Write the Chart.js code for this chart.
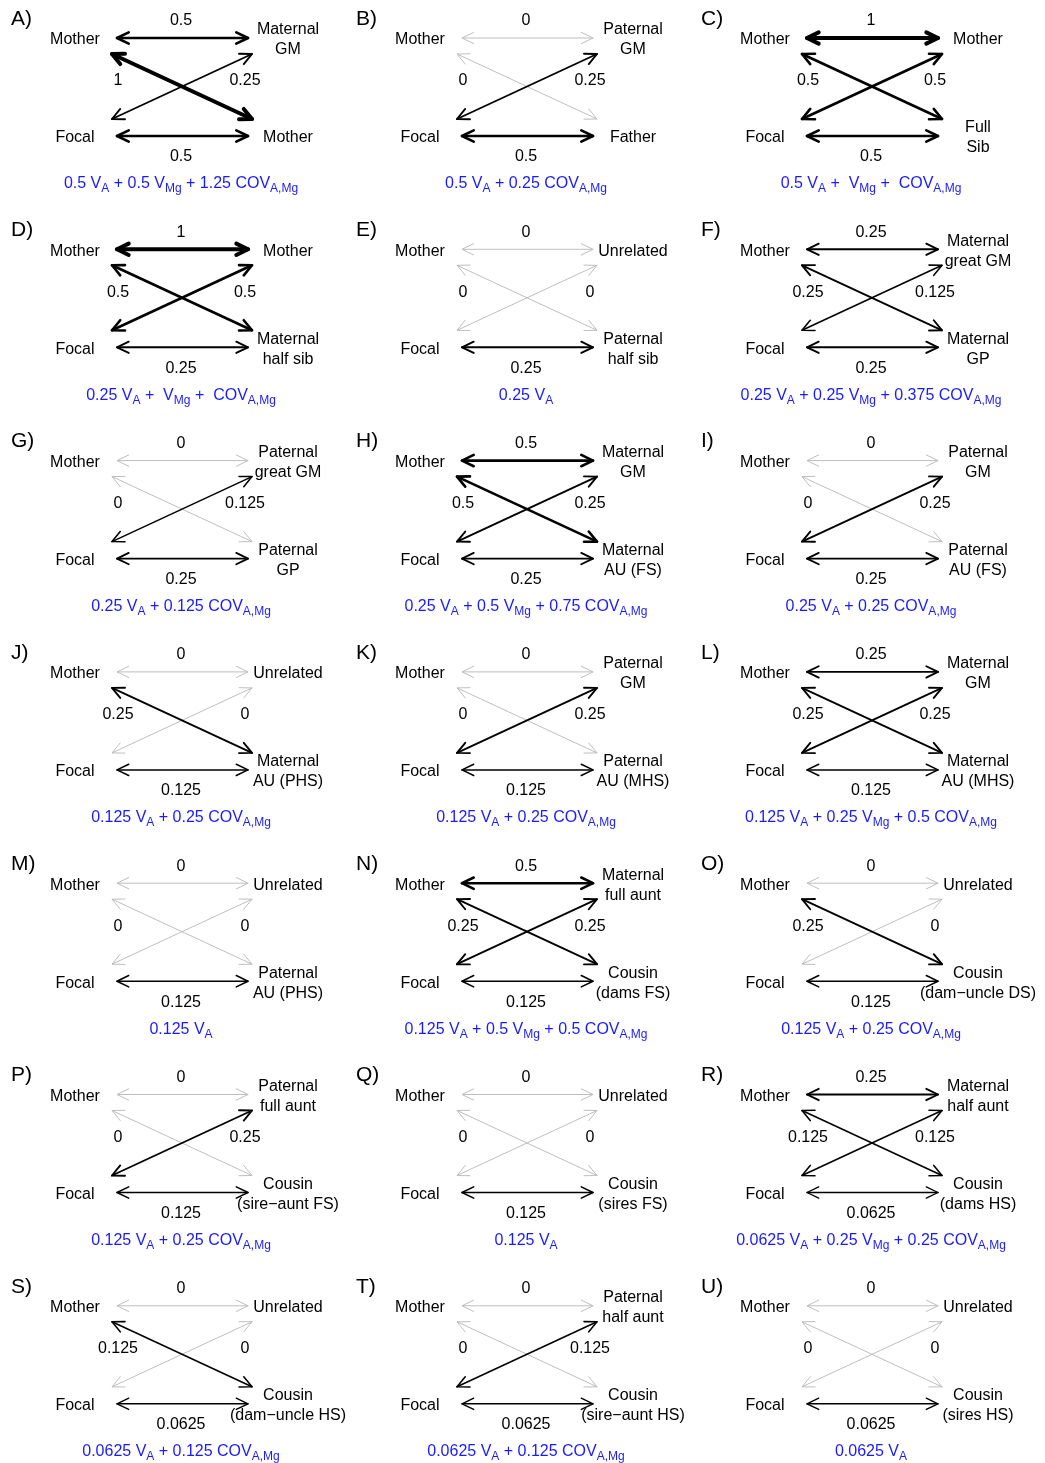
<!DOCTYPE html>
<html>
<head>
<meta charset="utf-8">
<script src="https://cdn.jsdelivr.net/npm/chart.js@4.4.1/dist/chart.umd.min.js"></script>
<style>
  body { margin: 0; background: #fff; }
  canvas { display: block; }
</style>
</head>
<body>
<canvas id="paths" width="1045" height="1463"></canvas>
<script>
// one panel per relative type, read left to right, top to bottom
var panelLetters = ['A','B','C','D','E','F','G','H','I','J','K','L','M','N','O','P','Q','R','S','T','U'];

var topRelative = [
  ['Maternal','GM'], ['Paternal','GM'], ['Mother'],
  ['Mother'], ['Unrelated'], ['Maternal','great GM'],
  ['Paternal','great GM'], ['Maternal','GM'], ['Paternal','GM'],
  ['Unrelated'], ['Paternal','GM'], ['Maternal','GM'],
  ['Unrelated'], ['Maternal','full aunt'], ['Unrelated'],
  ['Paternal','full aunt'], ['Unrelated'], ['Maternal','half aunt'],
  ['Unrelated'], ['Paternal','half aunt'], ['Unrelated']
];
var bottomRelative = [
  ['Mother'], ['Father'], ['Full','Sib'],
  ['Maternal','half sib'], ['Paternal','half sib'], ['Maternal','GP'],
  ['Paternal','GP'], ['Maternal','AU (FS)'], ['Paternal','AU (FS)'],
  ['Maternal','AU (PHS)'], ['Paternal','AU (MHS)'], ['Maternal','AU (MHS)'],
  ['Paternal','AU (PHS)'], ['Cousin','(dams FS)'], ['Cousin','(dam\u2212uncle DS)'],
  ['Cousin','(sire\u2212aunt FS)'], ['Cousin','(sires FS)'], ['Cousin','(dams HS)'],
  ['Cousin','(dam\u2212uncle HS)'], ['Cousin','(sire\u2212aunt HS)'], ['Cousin','(sires HS)']
];

// path coefficients
var topValues    = [0.5, 0, 1,   1, 0, 0.25,   0, 0.5, 0,   0, 0, 0.25,   0, 0.5, 0,   0, 0, 0.25,   0, 0, 0];      // Mother <-> top relative
var leftValues   = [1, 0, 0.5,   0.5, 0, 0.25,   0, 0.5, 0,   0.25, 0, 0.25,   0, 0.25, 0.25,   0, 0, 0.125,   0.125, 0, 0]; // Mother <-> bottom relative
var rightValues  = [0.25, 0.25, 0.5,   0.5, 0, 0.125,   0.125, 0.25, 0.25,   0, 0.25, 0.25,   0, 0.25, 0,   0.25, 0, 0.125,   0, 0.125, 0]; // Focal <-> top relative
var bottomValues = [0.5, 0.5, 0.5,   0.25, 0.25, 0.25,   0.25, 0.25, 0.25,   0.125, 0.125, 0.125,   0.125, 0.125, 0.125,   0.125, 0.125, 0.0625,   0.0625, 0.0625, 0.0625]; // Focal <-> bottom relative

// resulting covariance coefficients
var coefVA  = [0.5, 0.5, 0.5,   0.25, 0.25, 0.25,   0.25, 0.25, 0.25,   0.125, 0.125, 0.125,   0.125, 0.125, 0.125,   0.125, 0.125, 0.0625,   0.0625, 0.0625, 0.0625];
var coefVMg = [0.5, 0, 1,   1, 0, 0.25,   0, 0.5, 0,   0, 0, 0.25,   0, 0.5, 0,   0, 0, 0.25,   0, 0, 0];
var coefCOV = [1.25, 0.25, 1,   1, 0, 0.375,   0.125, 0.75, 0.25,   0.25, 0.25, 0.5,   0, 0.5, 0.25,   0.25, 0, 0.25,   0.125, 0.125, 0];

// layout of one panel (pixels from its corner)
var COL_W = 345, ROW_H = 211.3;
var FONT = '"Liberation Sans", Arial, sans-serif';
var GREY = '#bebebe';
var HEAD_LEN = 13, HEAD_ANG = 0.45;

function edgeWidth(v) { return v === 0 ? 1 : 1.2 + 2.8 * v; }

var datasets = [];
panelLetters.forEach(function (letter, i) {
  var ox = (i % 3) * COL_W, oy = Math.floor(i / 3) * ROW_H;
  var edges = [
    [[117, 38], [248, 38], topValues[i]],
    [[112, 54], [252, 119], leftValues[i]],
    [[112, 119], [252, 54], rightValues[i]],
    [[117, 136], [248, 136], bottomValues[i]]
  ];
  edges.forEach(function (e) {
    var v = e[2];
    datasets.push({
      data: [{x: ox + e[0][0], y: oy + e[0][1]}, {x: ox + e[1][0], y: oy + e[1][1]}],
      showLine: true,
      pointRadius: 0,
      borderColor: v === 0 ? GREY : '#000',
      borderWidth: edgeWidth(v),
      borderCapStyle: 'round',
      order: v === 0 ? 1 : 0,
      isGrey: v === 0
    });
  });
});

function drawHead(ctx, x1, y1, x2, y2) {
  var a = Math.atan2(y2 - y1, x2 - x1);
  ctx.beginPath();
  ctx.moveTo(x2 - HEAD_LEN * Math.cos(a - HEAD_ANG), y2 - HEAD_LEN * Math.sin(a - HEAD_ANG));
  ctx.lineTo(x2, y2);
  ctx.lineTo(x2 - HEAD_LEN * Math.cos(a + HEAD_ANG), y2 - HEAD_LEN * Math.sin(a + HEAD_ANG));
  ctx.stroke();
}

function fmt(v) { return String(v); }

function formulaParts(i) {
  var parts = [];
  var terms = [[coefVA[i], 'V', 'A'], [coefVMg[i], 'V', 'Mg'], [coefCOV[i], 'COV', 'A,Mg']];
  var first = true;
  terms.forEach(function (t) {
    if (!t[0]) return;
    var lead = first ? '' : ' + ';
    if (t[0] === 1) parts.push({t: lead + (first ? '' : ' '), sub: false});
    else parts.push({t: lead + fmt(t[0]) + ' ', sub: false});
    parts.push({t: t[1], sub: false});
    parts.push({t: t[2], sub: true});
    first = false;
  });
  return parts;
}

var arrowsAndText = {
  id: 'arrowsAndText',
  afterDatasetsDraw: function (chart) {
    var ctx = chart.ctx;
    ctx.save();
    ctx.lineCap = 'round';
    ctx.lineJoin = 'round';
    [true, false].forEach(function (greyPass) {
      chart.data.datasets.forEach(function (ds, k) {
        if (ds.isGrey !== greyPass) return;
        var pts = chart.getDatasetMeta(k).data;
        ctx.strokeStyle = ds.borderColor;
        ctx.lineWidth = ds.borderWidth;
        drawHead(ctx, pts[0].x, pts[0].y, pts[1].x, pts[1].y);
        drawHead(ctx, pts[1].x, pts[1].y, pts[0].x, pts[0].y);
      });
    });
    ctx.restore();
  },
  afterDraw: function (chart) {
    var ctx = chart.ctx;
    var sx = chart.scales.x, sy = chart.scales.y;
    ctx.save();
    ctx.textBaseline = 'middle';
    panelLetters.forEach(function (letter, i) {
      var ox = (i % 3) * COL_W, oy = Math.floor(i / 3) * ROW_H;
      function px(x) { return sx.getPixelForValue(ox + x); }
      function py(y) { return sy.getPixelForValue(oy + y + 2); }
      ctx.fillStyle = '#000';
      ctx.font = '21px ' + FONT;
      ctx.textAlign = 'left';
      ctx.fillText(letter + ')', px(11), py(17));

      ctx.font = '16px ' + FONT;
      ctx.textAlign = 'center';
      ctx.fillText('Mother', px(75), py(38));
      ctx.fillText('Focal', px(75), py(136));
      [[topRelative[i], 38], [bottomRelative[i], 136]].forEach(function (n) {
        var lines = n[0];
        lines.forEach(function (s, j) {
          var off = lines.length === 1 ? 0 : (j === 0 ? -10 : 10);
          ctx.fillText(s, px(288), py(n[1] + off));
        });
      });
      ctx.fillText(fmt(topValues[i]), px(181), py(19));
      ctx.fillText(fmt(bottomValues[i]), px(181), py(155));
      ctx.fillText(fmt(leftValues[i]), px(118), py(79));
      ctx.fillText(fmt(rightValues[i]), px(245), py(79));

      // formula in blue with subscripts
      var parts = formulaParts(i);
      var total = 0;
      parts.forEach(function (p) {
        ctx.font = (p.sub ? '12px ' : '16px ') + FONT;
        p.w = ctx.measureText(p.t).width;
        total += p.w;
      });
      var x = px(181) - total / 2;
      ctx.fillStyle = '#1a1aff';
      ctx.textAlign = 'left';
      parts.forEach(function (p) {
        ctx.font = (p.sub ? '12px ' : '16px ') + FONT;
        ctx.fillText(p.t, x, py(p.sub ? 187 : 182));
        x += p.w;
      });
    });
    ctx.restore();
  }
};

new Chart(document.getElementById('paths'), {
  type: 'scatter',
  data: { datasets: datasets },
  options: {
    responsive: false,
    devicePixelRatio: 1,
    animation: false,
    events: [],
    layout: { padding: 0 },
    plugins: { legend: { display: false }, tooltip: { enabled: false } },
    scales: {
      x: { type: 'linear', min: 0, max: 1045, display: false },
      y: { type: 'linear', min: 0, max: 1463, reverse: true, display: false }
    }
  },
  plugins: [arrowsAndText]
});
</script>
</body>
</html>
